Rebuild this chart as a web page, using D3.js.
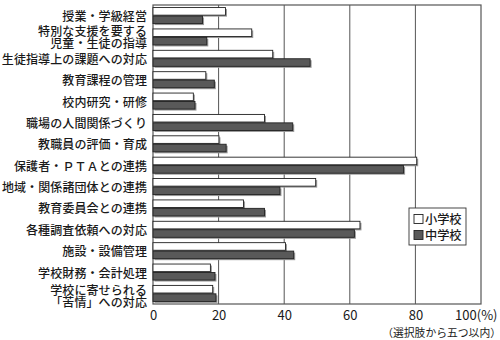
<!DOCTYPE html>
<html><head><meta charset="utf-8">
<script src="https://cdn.jsdelivr.net/npm/d3@7"></script>
<style>
html,body{margin:0;padding:0;background:#fff;}
text{font-family:"Noto Sans CJK JP","Noto Sans",sans-serif;fill:#1a1a1a;}
</style></head>
<body><svg id="c" width="500" height="340"></svg>
<script>
const categories = [
  ["授業・学級経営"],
  ["特別な支援を要する","児童・生徒の指導"],
  ["生徒指導上の課題への対応"],
  ["教育課程の管理"],
  ["校内研究・研修"],
  ["職場の人間関係づくり"],
  ["教職員の評価・育成"],
  ["保護者・ＰＴＡとの連携"],
  ["地域・関係諸団体との連携"],
  ["教育委員会との連携"],
  ["各種調査依頼への対応"],
  ["施設・設備管理"],
  ["学校財務・会計処理"],
  ["学校に寄せられる","「苦情」への対応"]
];
const elementary = [22.1, 30.1, 36.5, 16.1, 12.3, 34.0, 20.1, 80.4, 49.6, 27.6, 63.1, 40.4, 17.5, 18.2];
const juniorHigh = [15.1, 16.4, 47.9, 18.7, 12.8, 42.6, 22.3, 76.4, 38.7, 34.0, 61.4, 42.9, 18.9, 19.2];
const seriesNames = ["小学校", "中学校"];
const xTicks = [0, 20, 40, 60, 80, 100];
const note = "（選択肢から五つ以内）";

(function () {
const svg = d3.select("#c");
const mLeft = 153, mRight = 481, mTop = 5, mBottom = 304;
const x = d3.scaleLinear().domain([0, 100]).range([mLeft, mRight]);
const y = d3.scaleBand().domain(d3.range(categories.length)).range([mTop, mBottom]).paddingInner(0.25).paddingOuter(0.12);
const sub = d3.scaleBand().domain([0, 1]).range([0, y.bandwidth()]).paddingInner(0.1);

svg.append("g").selectAll("line").data(xTicks.slice(1, -1)).join("line")
  .attr("x1", d => x(d)).attr("x2", d => x(d)).attr("y1", mTop).attr("y2", mBottom)
  .attr("stroke", "#555").attr("stroke-width", 1);

svg.append("rect").attr("x", mLeft).attr("y", mTop).attr("width", mRight - mLeft).attr("height", mBottom - mTop)
  .attr("fill", "none").attr("stroke", "#555").attr("stroke-width", 1.2);

const series = [elementary, juniorHigh];
const fills = ["#ffffff", "#595959"];
series.forEach((vals, si) => {
  const g = svg.append("g");
  g.selectAll("rect.sh").data(vals).join("rect").attr("class", "sh")
    .attr("x", x(0) + 1.5).attr("y", (d, i) => y(i) + sub(si) + 1.5)
    .attr("width", d => x(d) - x(0)).attr("height", sub.bandwidth())
    .attr("fill", "#9a9a9a");
  g.selectAll("rect.b").data(vals).join("rect").attr("class", "b")
    .attr("x", x(0)).attr("y", (d, i) => y(i) + sub(si))
    .attr("width", d => x(d) - x(0)).attr("height", sub.bandwidth())
    .attr("fill", fills[si]).attr("stroke", "#222").attr("stroke-width", 0.9);
});

const lg = svg.append("g");
categories.forEach((lines, i) => {
  const cy = y(i) + y.bandwidth() / 2 + (lines.length > 1 && i === categories.length - 1 ? 2.5 : 0);
  const lh = 12;
  const t = lg.append("text").attr("text-anchor", "end")
    .attr("font-size", 12).attr("font-weight", 500).attr("letter-spacing", 0.1);
  lines.forEach((s, j) => {
    t.append("tspan").attr("x", 147).attr("y", cy + (j - (lines.length - 1) / 2) * lh)
      .attr("dominant-baseline", "central").text(s);
  });
});

const axis = d3.axisBottom(x).tickValues(xTicks).tickSize(0).tickPadding(7)
  .tickFormat(d => d === 100 ? "100(%)" : d);
const ax = svg.append("g").attr("transform", `translate(0,${mBottom})`).call(axis);
ax.select(".domain").remove();
ax.selectAll("text").attr("font-size", 13).attr("fill", "#1a1a1a")
  .attr("font-family", "\"Noto Sans CJK JP\",sans-serif");
ax.selectAll(".tick").filter(d => d === 100).select("text")
  .attr("text-anchor", "end").attr("dx", 16);

svg.append("text").attr("x", 501).attr("y", 332).attr("text-anchor", "end")
  .attr("dominant-baseline", "central").attr("font-size", 10.8).text(note);

const leg = svg.append("g").attr("transform", "translate(409,208)");
leg.append("rect").attr("width", 57).attr("height", 37).attr("fill", "#fff").attr("stroke", "#333").attr("stroke-width", 0.9);
const lt = leg.append("text").attr("font-size", 12.2).attr("font-weight", 500);
seriesNames.forEach((n, i) => {
  const cy = 11 + i * 16;
  leg.append("rect").attr("x", 5).attr("y", cy - 4.5).attr("width", 9).attr("height", 9)
    .attr("fill", fills[i]).attr("stroke", "#222").attr("stroke-width", 0.9);
  lt.append("tspan").attr("x", 16).attr("y", cy).attr("dominant-baseline", "central").text(n);
});
})();
</script></body></html>
